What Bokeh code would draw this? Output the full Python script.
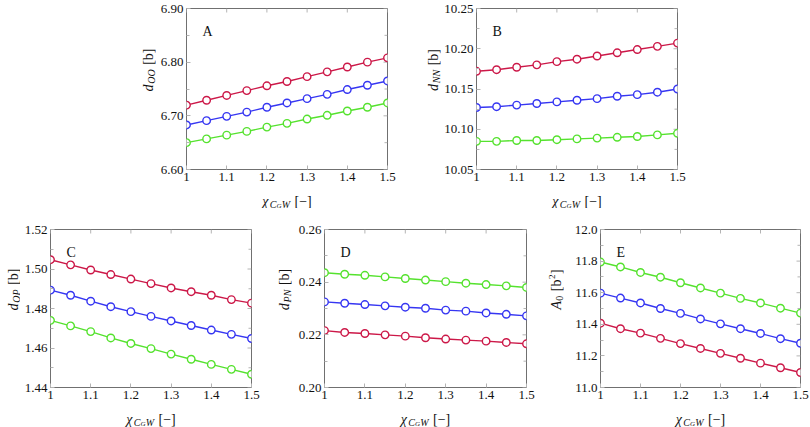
import math
from bokeh.plotting import figure
from bokeh.layouts import row, column
from bokeh.models import Spacer, Label, FixedTicker, Range1d
from bokeh.embed import file_html
from bokeh.resources import INLINE

# ---------------- data ----------------
chi = [1.0, 1.05, 1.1, 1.15, 1.2, 1.25, 1.3, 1.35, 1.4, 1.45, 1.5]
x_ticks = [1.0, 1.1, 1.2, 1.3, 1.4, 1.5]
x_tick_labels = ["1", "1.1", "1.2", "1.3", "1.4", "1.5"]

# Panel A: d_OO
A_red = [6.720, 6.729, 6.738, 6.747, 6.756, 6.764, 6.773, 6.782, 6.791, 6.800, 6.808]
A_blue = [6.683, 6.691, 6.699, 6.707, 6.716, 6.724, 6.732, 6.740, 6.749, 6.757, 6.765]
A_green = [6.650, 6.657, 6.664, 6.671, 6.679, 6.686, 6.694, 6.701, 6.709, 6.716, 6.724]
A_yticks = [6.60, 6.70, 6.80, 6.90]
A_ylabels = ["6.60", "6.70", "6.80", "6.90"]
A_yminor = [6.65, 6.75, 6.85]

# Panel B: d_NN
B_red = [10.172, 10.174, 10.177, 10.180, 10.184, 10.187, 10.191, 10.195, 10.199, 10.203, 10.207]
B_blue = [10.127, 10.128, 10.130, 10.132, 10.134, 10.136, 10.138, 10.141, 10.143, 10.146, 10.150]
B_green = [10.085, 10.085, 10.086, 10.086, 10.087, 10.088, 10.089, 10.090, 10.091, 10.093, 10.095]
B_yticks = [10.05, 10.10, 10.15, 10.20, 10.25]
B_ylabels = ["10.05", "10.10", "10.15", "10.20", "10.25"]
B_yminor = [10.075, 10.125, 10.175, 10.225]

# Panel C: d_OP
C_red = [1.5047, 1.5021, 1.4995, 1.4972, 1.4949, 1.4926, 1.4904, 1.4885, 1.4867, 1.4845, 1.4827]
C_blue = [1.4893, 1.4867, 1.4837, 1.4809, 1.4784, 1.4760, 1.4737, 1.4714, 1.4691, 1.4669, 1.4648]
C_green = [1.4740, 1.4712, 1.4683, 1.4651, 1.4623, 1.4597, 1.4569, 1.4543, 1.4517, 1.4492, 1.4467]
C_yticks = [1.44, 1.46, 1.48, 1.50, 1.52]
C_ylabels = ["1.44", "1.46", "1.48", "1.50", "1.52"]
C_yminor = [1.45, 1.47, 1.49, 1.51]

# Panel D: d_PN
D_green = [0.2436, 0.2430, 0.2426, 0.2420, 0.2414, 0.2408, 0.2402, 0.2396, 0.2391, 0.2386, 0.2380]
D_blue = [0.2325, 0.2320, 0.2315, 0.2310, 0.2305, 0.2301, 0.2294, 0.2290, 0.2283, 0.2278, 0.2272]
D_red = [0.2216, 0.2209, 0.2205, 0.2200, 0.2195, 0.2189, 0.2184, 0.2180, 0.2176, 0.2171, 0.2166]
D_yticks = [0.20, 0.22, 0.24, 0.26]
D_ylabels = ["0.20", "0.22", "0.24", "0.26"]
D_yminor = [0.21, 0.23, 0.25]

# Panel E: A_0
E_green = [11.794, 11.763, 11.728, 11.698, 11.663, 11.630, 11.597, 11.564, 11.535, 11.502, 11.471]
E_blue = [11.597, 11.566, 11.535, 11.500, 11.469, 11.434, 11.403, 11.372, 11.342, 11.309, 11.280]
E_red = [11.407, 11.372, 11.344, 11.311, 11.278, 11.247, 11.216, 11.185, 11.154, 11.125, 11.095]
E_yticks = [11.0, 11.2, 11.4, 11.6, 11.8, 12.0]
E_ylabels = ["11.0", "11.2", "11.4", "11.6", "11.8", "12.0"]
E_yminor = [11.1, 11.3, 11.5, 11.7, 11.9]

RED = "#cc1848"
BLUE = "#3636f2"
GREEN = "#55e22e"
FONT = "Liberation Serif"
TICK_COL = "#b4b4b4"
TXT = "#111111"


def add_pieces(p, pieces, center, base, rotated):
    # pieces: (text, font px, baseline shift px (+ = down), style, advance em, gap px before)
    total = sum(g + sz * w for (_, sz, _, _, w, g) in pieces)
    pos = center - total / 2.0
    for text, sz, shift, style, w, g in pieces:
        pos += g
        if rotated:
            lab = Label(x=base + shift, y=pos, angle=math.pi / 2)
        else:
            lab = Label(x=pos, y=base - shift)
        lab.x_units = "screen"
        lab.y_units = "screen"
        lab.text = text
        lab.text_align = "left"
        lab.text_baseline = "alphabetic"
        lab.text_font = FONT
        lab.text_font_size = f"{sz}px"
        lab.text_font_style = style
        lab.text_color = TXT
        p.add_layout(lab)
        pos += sz * w


def strip(width, height):
    s = figure(width=width, height=height, output_backend="svg", toolbar_location=None,
               x_axis_type=None, y_axis_type=None, x_range=Range1d(0, 1), y_range=Range1d(0, 1),
               min_border=0)
    s.outline_line_color = None
    s.xgrid.visible = False
    s.ygrid.visible = False
    return s


def make_panel(series, ylo, yhi, yticks, ylabels, yminor, letter,
               width, height, bl, br, bt, bb):
    p = figure(width=width, height=height, output_backend="svg", toolbar_location=None,
               x_range=Range1d(1.0, 1.5), y_range=Range1d(ylo, yhi),
               min_border_left=bl, min_border_right=br, min_border_top=bt,
               min_border_bottom=bb)
    p.xgrid.visible = False
    p.ygrid.visible = False
    p.outline_line_color = "#707070"
    p.outline_line_width = 1

    p.xaxis.ticker = FixedTicker(ticks=x_ticks)
    p.xaxis.major_label_overrides = dict(zip(x_ticks, x_tick_labels))
    p.yaxis.ticker = FixedTicker(ticks=yticks, minor_ticks=yminor)
    p.yaxis.major_label_overrides = dict(zip(yticks, ylabels))
    p.axis.axis_line_color = None
    p.axis.major_tick_in = 4
    p.axis.major_tick_out = 0
    p.axis.minor_tick_in = 3
    p.axis.minor_tick_out = 0
    p.axis.major_tick_line_color = TICK_COL
    p.axis.minor_tick_line_color = TICK_COL
    p.axis.major_label_text_font = FONT
    p.axis.major_label_text_font_size = "13px"
    p.axis.major_label_text_color = TXT
    p.axis.major_label_standoff = 3

    fw = width - bl - br
    fh = height - bt - bb
    # mirrored inward ticks on the top and right edges
    ty = (yhi - ylo) * 4.0 / fh
    p.segment(x0=x_ticks, y0=[yhi] * len(x_ticks), x1=x_ticks, y1=[yhi - ty] * len(x_ticks),
              line_color=TICK_COL, line_width=1)
    tx = 0.5 * 4.0 / fw
    tx_m = 0.5 * 3.0 / fw
    p.segment(x0=[1.5] * len(yticks), y0=yticks, x1=[1.5 - tx] * len(yticks), y1=yticks,
              line_color=TICK_COL, line_width=1)
    p.segment(x0=[1.5] * len(yminor), y0=yminor, x1=[1.5 - tx_m] * len(yminor), y1=yminor,
              line_color=TICK_COL, line_width=1)

    for ys, col in series:
        p.line(chi, ys, line_color=col, line_width=1.4)
    for ys, col in series:
        p.scatter(chi, ys, marker="circle", size=7.5, fill_color="white",
                  line_color=col, line_width=1.4)

    p.add_layout(Label(x=16, y=fh - 23, x_units="screen", y_units="screen", text=letter,
                       text_font=FONT, text_font_size="14px", text_color=TXT,
                       text_baseline="alphabetic"))
    return p


def dlab(sub, subw):
    return [("d", 14, 0, "italic", 0.5, 0), (sub, 10, 2.5, "italic", subw, 0.8),
            ("[b]", 14, 0, "normal", 1.166, 4.5)]


A_lab = dlab("OO", 1.444)
B_lab = dlab("NN", 1.334)
C_lab = dlab("OP", 1.333)
D_lab = dlab("PN", 1.278)
E_lab = [("A", 14, 0, "italic", 0.611, 0), ("0", 10, 2.5, "normal", 0.5, 0.3),
         ("[b", 14, 0, "normal", 0.833, 4.5), ("2", 9, -4.5, "normal", 0.5, 0.5),
         ("]", 14, 0, "normal", 0.333, 0.5)]
X_lab = [("\u03c7", 14, 0, "italic", 0.5, 0), ("C", 10, 2.5, "italic", 0.667, 0.5),
         ("G", 7, 4, "italic", 0.722, 0), ("W", 10, 2.5, "italic", 0.833, 0.3),
         ("[\u2212]", 14, 0, "normal", 1.23, 4.5)]

# ---------------- top row ----------------
H1, BT1, BB1 = 188, 8, 19
pA = make_panel([(A_red, RED), (A_blue, BLUE), (A_green, GREEN)], 6.60, 6.90,
                A_yticks, A_ylabels, A_yminor, "A", 263, H1, 30, 32, BT1, BB1)
pB = make_panel([(B_red, RED), (B_blue, BLUE), (B_green, GREEN)], 10.05, 10.25,
                B_yticks, B_ylabels, B_yminor, "B", 256, H1, 35, 20, BT1, BB1)
fc1 = BB1 + (H1 - BT1 - BB1) / 2.0
sA = strip(22, H1)
add_pieces(sA, A_lab, fc1, 14, True)
sB = strip(22, H1)
add_pieces(sB, B_lab, fc1, 14, True)
xs1 = strip(697, 20)
add_pieces(xs1, X_lab, 286.5, 7, False)
add_pieces(xs1, X_lab, 576.5, 7, False)

# ---------------- bottom row ----------------
H2, BT2, BB2 = 198, 21, 19
pC = make_panel([(C_red, RED), (C_blue, BLUE), (C_green, GREEN)], 1.44, 1.52,
                C_yticks, C_ylabels, C_yminor, "C", 250, H2, 30, 19, BT2, BB2)
pD = make_panel([(D_green, GREEN), (D_blue, BLUE), (D_red, RED)], 0.20, 0.26,
                D_yticks, D_ylabels, D_yminor, "D", 250, H2, 32, 16, BT2, BB2)
pE = make_panel([(E_green, GREEN), (E_blue, BLUE), (E_red, RED)], 11.0, 12.0,
                E_yticks, E_ylabels, E_yminor, "E", 245, H2, 36, 9, BT2, BB2)
fc2 = BB2 + (H2 - BT2 - BB2) / 2.0
sC = strip(20, H2)
add_pieces(sC, C_lab, fc2, 13, True)
sD = strip(22, H2)
add_pieces(sD, D_lab, fc2, 14, True)
sE = strip(22, H2)
add_pieces(sE, E_lab, fc2, 14, True)
xs2 = strip(809, 21)
add_pieces(xs2, X_lab, 150.5, 8, False)
add_pieces(xs2, X_lab, 425.0, 8, False)
add_pieces(xs2, X_lab, 700.0, 8, False)

layout = column(
    row(Spacer(width=134, height=H1), sA, pA, sB, pB),
    xs1,
    row(sC, pC, sD, pD, sE, pE),
    xs2,
)

with open("out.html", "w") as f:
    f.write(file_html(layout, INLINE))
